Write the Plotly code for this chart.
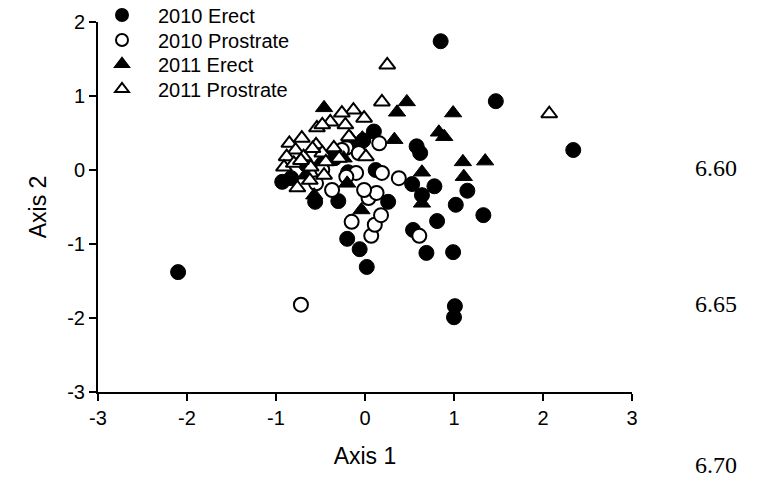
import plotly.graph_objects as go

# 2010 Erect (filled circles)
e10_x = [0.85, 1.47, 2.34, -2.10, 1.01, 1.00, 0.99, 0.69, 0.81, 1.02, 1.33, 1.15, 0.53, 0.78, 0.64,
         0.54, 0.58, 0.62, -0.83, -0.56, -0.30, 0.26, -0.20, -0.06, 0.02, 0.10, -0.02, -0.16, -0.34,
         -0.49, -0.19, 0.12, -0.66, -0.93]
e10_y = [1.74, 0.93, 0.27, -1.38, -1.84, -1.99, -1.11, -1.12, -0.69, -0.47, -0.61, -0.28, -0.19, -0.22, -0.34,
         -0.81, 0.32, 0.23, -0.11, -0.43, -0.42, -0.43, -0.93, -1.07, -1.31, 0.52, 0.40, 0.34, 0.16,
         0.03, -0.03, 0.00, 0.07, -0.16]

# 2010 Prostrate (open circles)
p10_x = [-0.72, 0.61, 0.07, 0.11, 0.18, -0.15, 0.04, 0.13, 0.38, 0.19, -0.10, -0.37, -0.55, -0.21,
         -0.48, -0.21, 0.16, -0.07, -0.26, -0.01]
p10_y = [-1.82, -0.89, -0.89, -0.74, -0.61, -0.70, -0.38, -0.31, -0.11, -0.04, -0.04, -0.27, -0.18, -0.09,
         0.00, 0.30, 0.36, 0.23, 0.27, -0.27]

# 2011 Erect (filled triangles)
e11_x = [0.47, 0.36, 0.99, 0.83, 0.89, -0.46, 0.33, 1.10, 1.35, 1.11, 0.64, 0.64, -0.04, -0.16, -0.03,
         -0.24, -0.20, -0.57, -0.38, -0.67, -0.48]
e11_y = [0.92, 0.78, 0.77, 0.51, 0.45, 0.84, 0.41, 0.11, 0.12, -0.09, -0.03, -0.45, -0.54, 0.43, 0.43,
         0.16, -0.18, -0.34, 0.24, -0.07, 0.14]

# 2011 Prostrate (open triangles)
p11_x = [0.25, 2.07, 0.19, -0.13, -0.26, -0.01, -0.39, -0.22, -0.54, -0.48, -0.71, -0.85, -0.55, -0.35,
         -0.78, -0.69, -0.88, -0.48, -0.29, -0.91, -0.61, -0.80, -0.44, 0.01, -0.18, -0.76, -0.62, -0.46,
         -0.72, -0.59]
p11_y = [1.42, 0.76, 0.92, 0.81, 0.77, 0.70, 0.65, 0.61, 0.57, 0.61, 0.43, 0.36, 0.34, 0.30,
         0.27, 0.18, 0.18, 0.23, 0.16, 0.04, 0.04, 0.09, 0.11, 0.18, 0.45, -0.24, -0.14, -0.07,
         0.13, 0.29]

series_names = ["2010 Erect", "2010 Prostrate", "2011 Erect", "2011 Prostrate"]
x_ticks = [-3, -2, -1, 0, 1, 2, 3]
y_ticks = [-3, -2, -1, 0, 1, 2]
margin_notes = ["6.60", "6.65", "6.70"]

FONT = "Liberation Sans, Arial, sans-serif"

# plot area in pixels (for placing legends / notes in paper coordinates)
L, R, T, B = 98, 632, 22, 392
PW, PH = R - L, B - T

fig = go.Figure()
fig.add_trace(go.Scatter(x=e10_x, y=e10_y, mode="markers", name=series_names[0], legend="legend",
                         marker=dict(symbol="circle", size=15, color="black",
                                     line=dict(color="black", width=1))))
fig.add_trace(go.Scatter(x=p10_x, y=p10_y, mode="markers", name=series_names[1], legend="legend2",
                         marker=dict(symbol="circle", size=14, color="white",
                                     line=dict(color="black", width=2))))
fig.add_trace(go.Scatter(x=e11_x, y=e11_y, mode="markers", name=series_names[2], legend="legend3",
                         marker=dict(symbol="triangle-up", size=15, color="black",
                                     line=dict(color="black", width=1))))
fig.add_trace(go.Scatter(x=p11_x, y=p11_y, mode="markers", name=series_names[3], legend="legend4",
                         marker=dict(symbol="triangle-up", size=14, color="white",
                                     line=dict(color="black", width=2))))

row_centers = [15, 40, 64, 89]
legend_common = dict(xanchor="left", yanchor="middle", x=(86 - L) / PW,
                     font=dict(family=FONT, size=20, color="black"),
                     bgcolor="rgba(0,0,0,0)", itemsizing="constant", itemwidth=62)
legends = {}
for i, key in enumerate(["legend", "legend2", "legend3", "legend4"]):
    legends[key] = dict(legend_common, y=(B - row_centers[i]) / PH)

fig.update_layout(
    width=760, height=482,
    margin=dict(l=L, r=760 - R, t=T, b=482 - B, autoexpand=False),
    paper_bgcolor="white", plot_bgcolor="white",
    font=dict(family=FONT, size=20, color="black"),
    showlegend=True,
    **legends,
    xaxis=dict(range=[-3, 3], tickvals=x_ticks, ticktext=[str(v) for v in x_ticks],
               showgrid=False, zeroline=False, showline=True, linecolor="black", linewidth=2,
               ticks="outside", ticklen=7, tickwidth=2, tickcolor="black",
               tickfont=dict(family=FONT, size=20),
               title=dict(text="Axis 1", font=dict(family=FONT, size=23), standoff=20)),
    yaxis=dict(range=[-3, 2], tickvals=y_ticks, ticktext=[str(v) for v in y_ticks],
               showgrid=False, zeroline=False, showline=True, linecolor="black", linewidth=2,
               ticks="outside", ticklen=7, tickwidth=2, tickcolor="black",
               tickfont=dict(family=FONT, size=20),
               title=dict(text="Axis 2", font=dict(family=FONT, size=23), standoff=14)),
)

note_y = [168, 304, 465]
for txt, py in zip(margin_notes, note_y):
    fig.add_annotation(text=txt, xref="paper", yref="paper",
                       x=(716 - L) / PW, y=(B - py) / PH, showarrow=False,
                       xanchor="center", yanchor="middle",
                       font=dict(family="Liberation Serif, Times New Roman, serif", size=24, color="black"))

fig.write_html("out.html")
